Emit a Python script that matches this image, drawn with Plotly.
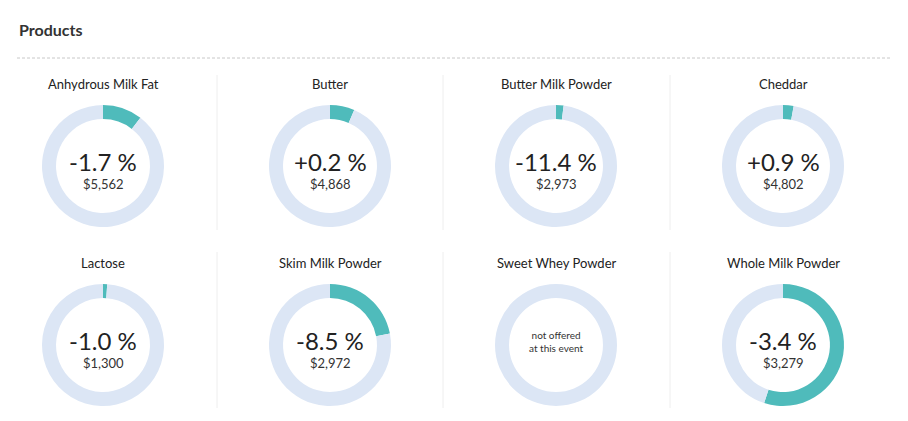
import plotly.graph_objects as go

# product cards (share = teal arc fraction of ring)
products = ["Anhydrous Milk Fat", "Butter", "Butter Milk Powder", "Cheddar",
            "Lactose", "Skim Milk Powder", "Sweet Whey Powder", "Whole Milk Powder"]
shares = [0.105, 0.065, 0.02, 0.028, 0.011, 0.22, None, 0.55]
changes = ["-1.7 %", "+0.2 %", "-11.4 %", "+0.9 %", "-1.0 %", "-8.5 %", None, "-3.4 %"]
prices = ["$5,562", "$4,868", "$2,973", "$4,802", "$1,300", "$2,972", None, "$3,279"]

W, H = 908, 421
OFF = 8  # page body margin shifts the plot by 8px
TEAL, RING, INK = "#4FBBBB", "#DCE6F5", "#333333"
COL_X = [103, 330, 556, 783]
ROW_Y = [166, 345]
R = 61


def px(x):
    return (x - OFF) / W


def py(y):
    return 1 - (y - OFF) / H


fig = go.Figure()
ann = []
for i, name in enumerate(products):
    cx, cy = COL_X[i % 4], ROW_Y[i // 4]
    s = shares[i]
    vals = [1] if s is None else [s, 1 - s]
    cols = [RING] if s is None else [TEAL, RING]
    fig.add_trace(go.Pie(values=vals, sort=False, direction="clockwise", hole=0.77,
                         marker=dict(colors=cols, line=dict(width=0)),
                         textinfo="none", hoverinfo="skip", showlegend=False,
                         domain=dict(x=[px(cx - R), px(cx + R)], y=[py(cy + R), py(cy - R)])))
    ann.append(dict(text=name, x=px(cx), y=py(cy - 82), font=dict(size=13, color="#222222")))
    if s is None:
        ann.append(dict(text="not offered<br>at this event", x=px(cx), y=py(cy - 4),
                        font=dict(size=10, color=INK)))
    else:
        ann.append(dict(text=changes[i], x=px(cx), y=py(cy - 5),
                        font=dict(size=24, color="#222222")))
        ann.append(dict(text=prices[i], x=px(cx), y=py(cy + 18), font=dict(size=13, color=INK)))

ann.append(dict(text="<b>Products</b>", x=px(17), y=py(30), xanchor="left",
                font=dict(size=16, color=INK)))
for a in ann:
    a.update(xref="paper", yref="paper", showarrow=False, yanchor="middle",
             xanchor=a.get("xanchor", "center"))

shapes = [dict(type="line", xref="paper", yref="paper", x0=px(17), x1=px(890),
               y0=py(58), y1=py(58), line=dict(color="#C8C8C8", width=1, dash="3px,2px"))]
for sx in [217, 443, 670]:
    for y0, y1 in [(75, 230), (252, 408)]:
        shapes.append(dict(type="line", xref="paper", yref="paper", x0=px(sx), x1=px(sx),
                           y0=py(y0), y1=py(y1), line=dict(color="#EEEEEE", width=1)))

fig.update_layout(width=W, height=H, margin=dict(l=0, r=0, t=0, b=0),
                  paper_bgcolor="white", plot_bgcolor="white",
                  font=dict(family="Lato, 'Open Sans', sans-serif", color=INK),
                  annotations=ann, shapes=shapes)
fig.write_html("out.html")
